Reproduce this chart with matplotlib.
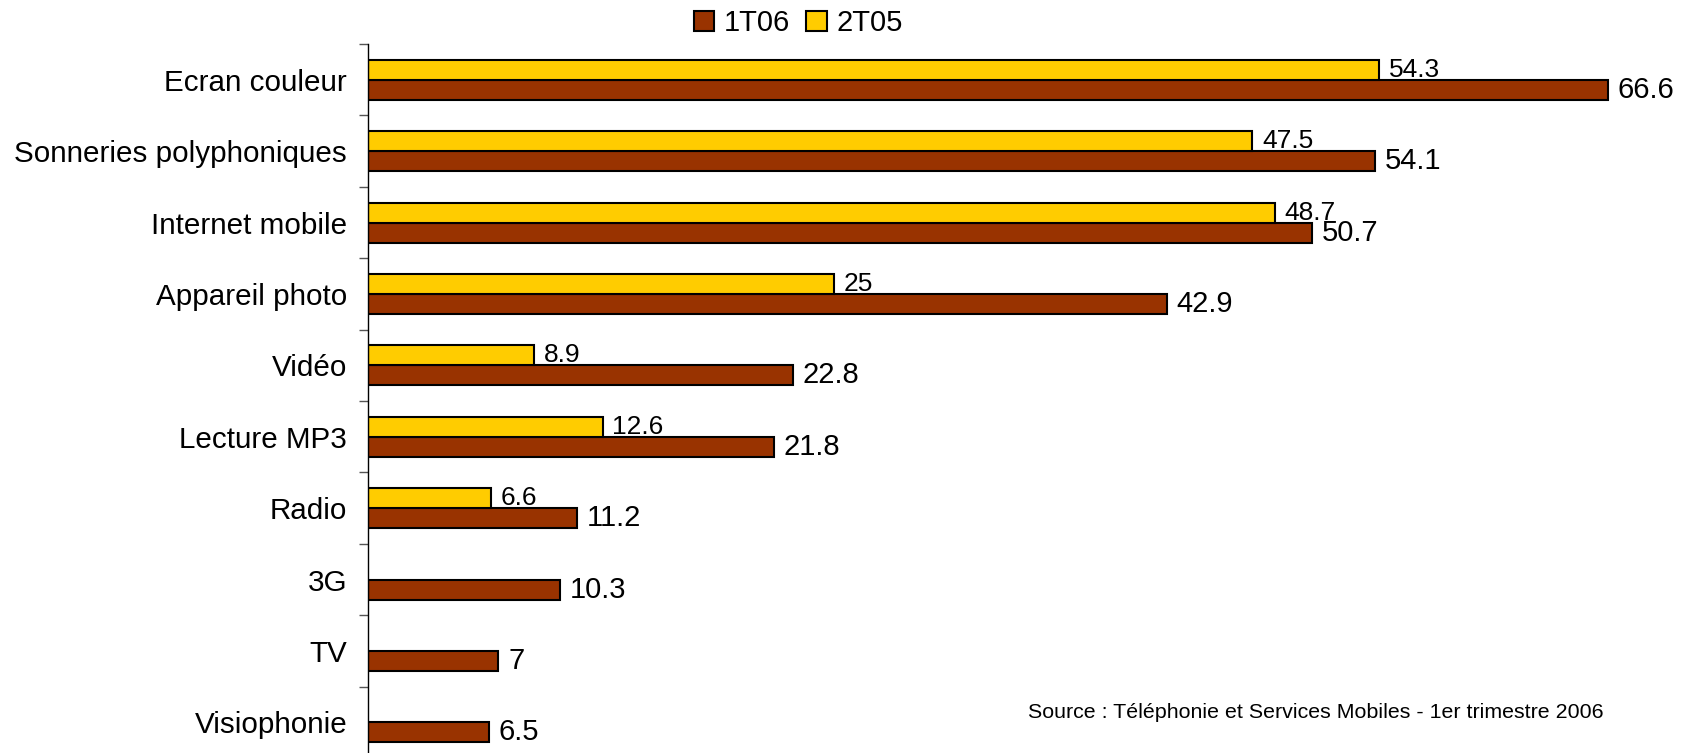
import matplotlib
matplotlib.use("Agg")
import matplotlib.pyplot as plt
import numpy as np

plt.rcParams['font.family'] = ['Liberation Sans', 'DejaVu Sans']

# data
categories = ["Ecran couleur", "Sonneries polyphoniques", "Internet mobile",
              "Appareil photo", "Vidéo", "Lecture MP3", "Radio", "3G", "TV",
              "Visiophonie"]
t106 = [66.6, 54.1, 50.7, 42.9, 22.8, 21.8, 11.2, 10.3, 7, 6.5]
t205 = [54.3, 47.5, 48.7, 25, 8.9, 12.6, 6.6, None, None, None]
series_names = ["1T06", "2T05"]
source = "Source : Téléphonie et Services Mobiles - 1er trimestre 2006"

brown = "#993300"
yellow = "#FFCC00"

W, H = 1684, 753
fig = plt.figure(figsize=(W / 100, H / 100), dpi=100)

# axes: left spine at x=368px, top at y=44px, runs off the bottom
ax_left = 368 / W
ax_top = 1 - 44 / H
ax = fig.add_axes([ax_left, 0, 1 - ax_left, ax_top])

px_per_unit = 18.62
slot = 71.4  # px per category
bh = 20 / slot

y = np.arange(len(categories))

bars_b = ax.barh(y, t106, height=bh, align='edge', color=brown,
                 edgecolor='black', linewidth=1.5, label=series_names[0])
y_idx = [i for i, v in enumerate(t205) if v is not None]
y_vals = [t205[i] for i in y_idx]
bars_y = ax.barh(np.array(y_idx) - bh, y_vals, height=bh, align='edge',
                 color=yellow, edgecolor='black', linewidth=1.5,
                 label=series_names[1])

# value labels
for i, v in enumerate(t106):
    ax.annotate(f"{v:g}", (v, i + bh / 2), xytext=(7, 0),
                textcoords='offset points', va='center', ha='left',
                fontsize=21)
for i, v in zip(y_idx, y_vals):
    ax.annotate(f"{v:g}", (v, i - bh / 2), xytext=(7, 0),
                textcoords='offset points', va='center', ha='left',
                fontsize=19)

ax.set_xlim(0, (W - 368) / px_per_unit)
ax.set_ylim(-0.5 + (H - 44) / slot, -0.5)

ax.set_yticks(y)
ax.set_yticklabels(categories, fontsize=21.3)
ax.tick_params(axis='y', which='major', length=0, pad=15)
ax.set_yticks(np.arange(len(categories)) - 0.5, minor=True)
ax.tick_params(axis='y', which='minor', length=6.5, width=1, color='#555555')
ax.set_xticks([])

for s in ['top', 'right', 'bottom']:
    ax.spines[s].set_visible(False)
ax.spines['left'].set_linewidth(1)

handles = [bars_b, bars_y]
fig.legend(handles, series_names, loc='center', ncol=2,
           bbox_to_anchor=(798.5 / W, 1 - 23 / H), frameon=False,
           fontsize=21, handlelength=0.69, handleheight=0.69,
           handletextpad=0.34, columnspacing=0.55, borderpad=0)

fig.text(1028 / W, 1 - 718 / H, source, fontsize=15.4, va='baseline',
         ha='left')

fig.savefig("out.png", dpi=100)
